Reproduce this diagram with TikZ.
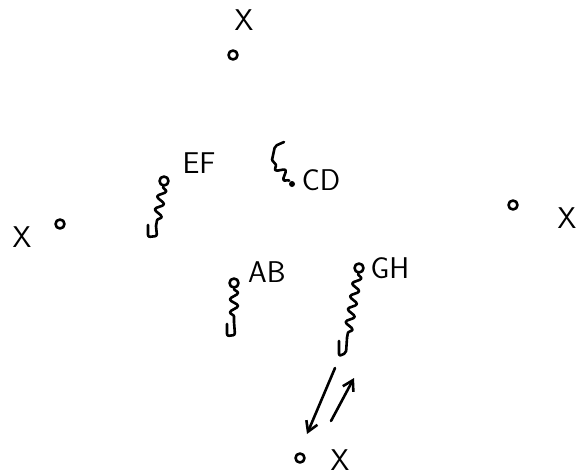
\documentclass[tikz,border=0pt]{standalone}
\usetikzlibrary{decorations.pathmorphing,arrows.meta}

\begin{document}
\begin{tikzpicture}[x=1pt,y=-1pt,line width=2.6pt,line cap=round,line join=round,
  site/.style={circle,draw,inner sep=0pt,minimum size=9pt,line width=2.6pt},
  dot/.style={circle,fill,inner sep=0pt,minimum size=6pt},
  lbl/.style={font=\sffamily\fontsize{30}{32}\selectfont,inner sep=1pt},
  wire/.style={decorate,decoration={snake,segment length=13pt,amplitude=4pt}},
  hook/.style={rounded corners=2pt},
  flow/.style={-{Straight Barb[length=10pt,width=12pt]}}]

% Cornice del foglio
\useasboundingbox (0,0) rectangle (577,475);

% Punti esterni
\node[site] (top) at (233,55) {};
\node[lbl] (topX) at (244,20) {X};

\node[site] (left) at (60,224) {};
\node[lbl] (leftX) at (22,237) {X};

\node[site] (right) at (513,205) {};
\node[lbl] (rightX) at (567,218) {X};

\node[site] (bot) at (300,458) {};
\node[lbl] (botX) at (340,460) {X};

% Coppie interne
\node[site] (ef) at (164,181) {};
\node[lbl] (efL) at (199,163) {EF};

\node[dot] (cd) at (292,184) {};
\node[lbl] (cdL) at (321,180) {CD};

\node[site] (ab) at (234,283) {};
\node[lbl] (abL) at (267,272) {AB};

\node[site] (gh) at (359,268) {};
\node[lbl] (ghL) at (390,268) {GH};

% Estremi liberi dei fili
\coordinate (ef-end) at (156,226);
\coordinate (cd-end) at (272,160);
\coordinate (ab-end) at (234,322);
\coordinate (gh-end) at (347,338);

% Fili ondulati con uncino
\draw[wire] (ef) -- (ef-end);
\draw[hook] (ef-end) -- ++(1,10) -- ++(-9,1) -- ++(0,-12);

\draw[wire] (cd) -- (cd-end);
\draw[hook] (cd-end) -- ++(3,-14) -- ++(9,-4);

\draw[wire] (ab) -- (ab-end);
\draw[hook] (ab-end) -- ++(1,13) -- ++(-8,1) -- ++(0,-12);

\draw[wire] (gh) -- (gh-end);
\draw[hook] (gh-end) -- ++(-1,15) -- ++(-7,3) -- ++(0,-15);

% Frecce
\coordinate (a1) at (335,368);
\coordinate (a2) at (307,434);
\coordinate (b1) at (331,421);
\coordinate (b2) at (354,378);
\draw[flow] (a1) -- (a2);
\draw[flow] (b1) -- (b2);

\end{tikzpicture}
\end{document}
